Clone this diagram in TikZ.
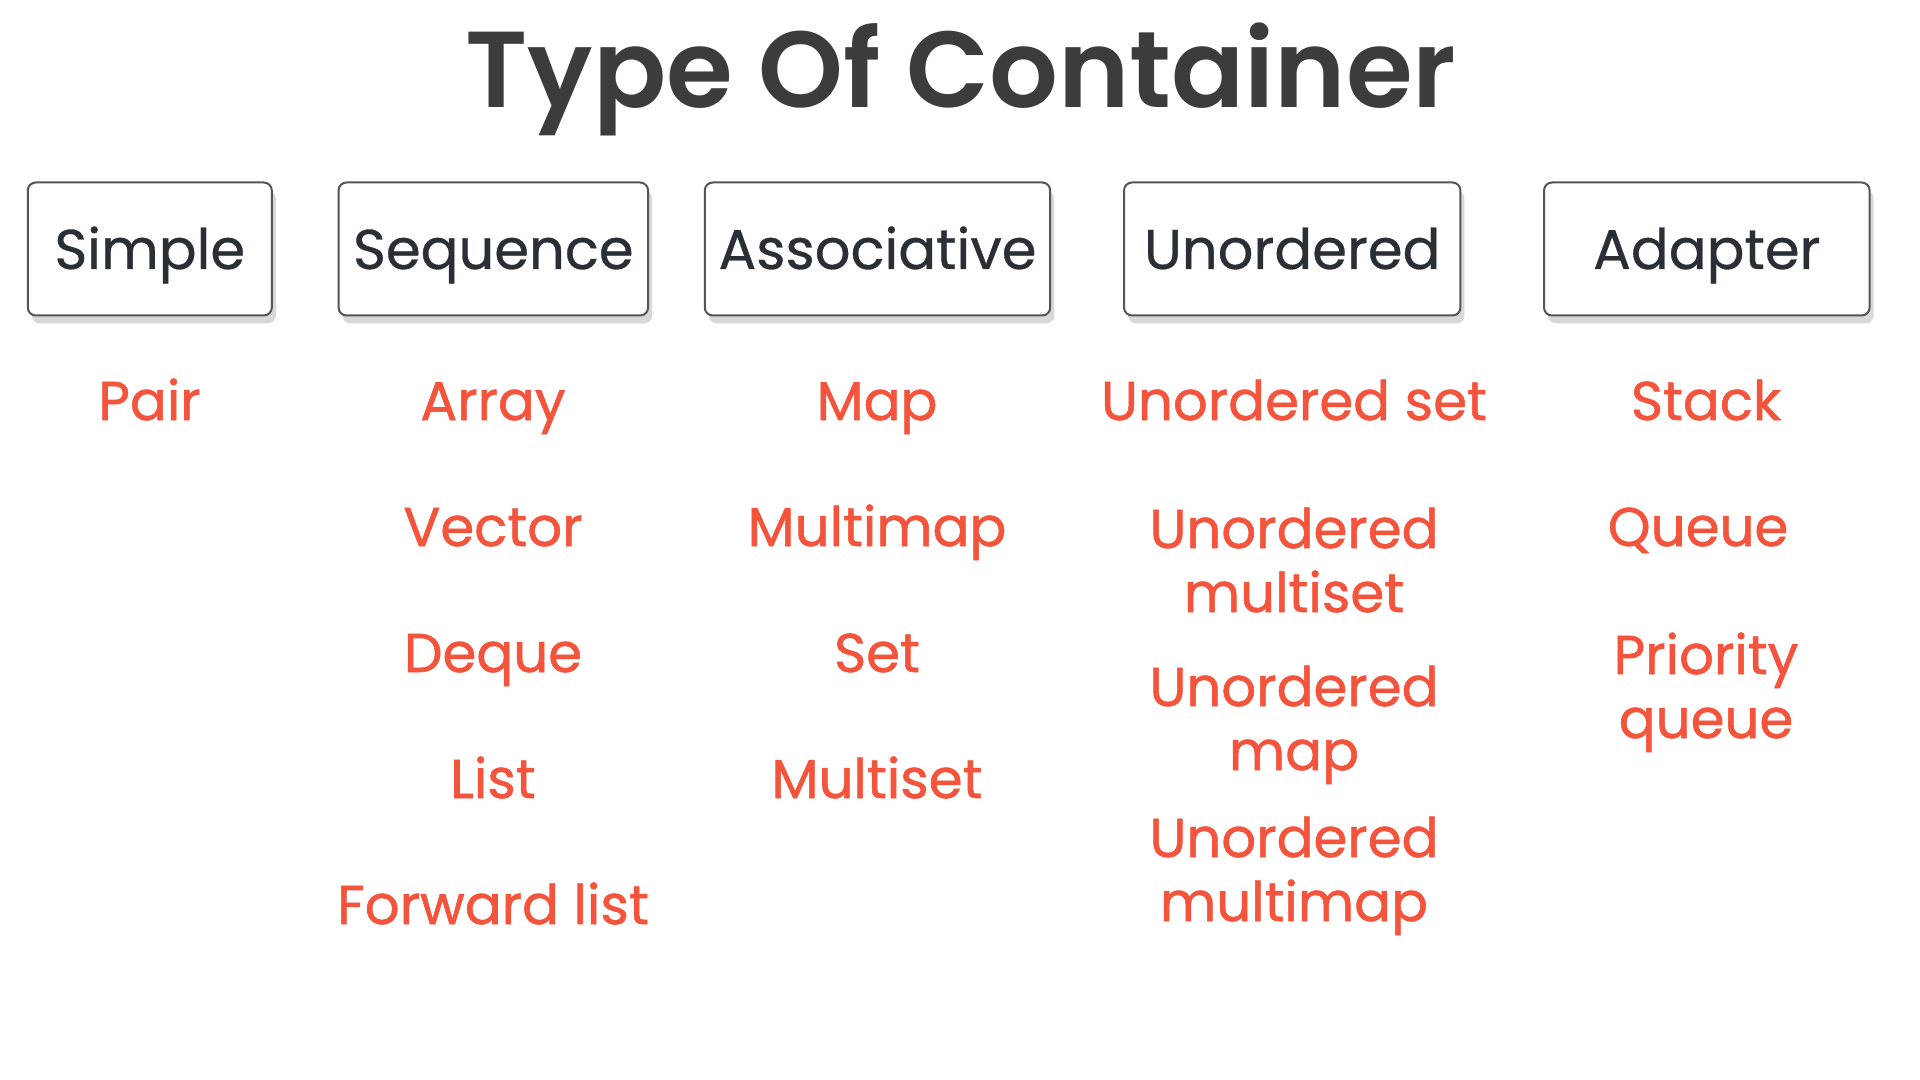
\documentclass[tikz,border=0pt]{standalone}
\usepackage{fontspec}
\setmainfont{Poppins}
\newfontfamily\itemfont[FakeBold=1]{Poppins}
\newfontfamily\boxfont[FakeBold=0.6]{Poppins}
\newfontfamily\titlefont{Poppins SemiBold}
\usetikzlibrary{shadows}
\definecolor{titlegray}{HTML}{3C3C3C}
\definecolor{boxtext}{HTML}{2A2E35}
\definecolor{boxline}{HTML}{555555}
\definecolor{itemred}{HTML}{F4533C}
\tikzset{
  titletext/.style={font=\titlefont\fontsize{54}{60}\selectfont, text=titlegray, anchor=base, inner sep=0pt},
  catbox/.style={draw=boxline, line width=1pt, rounded corners=4pt, fill=white,
    minimum height=66.5pt, text height=20pt, text depth=0pt, inner sep=0pt,
    font=\boxfont\fontsize{28}{34}\selectfont, text=boxtext,
    drop shadow={shadow xshift=2pt, shadow yshift=-4pt, opacity=0.25, fill=black!60}},
  item/.style={font=\itemfont\fontsize{27.3}{32}\selectfont, text=itemred, anchor=base, align=center, inner sep=0pt}
}
\begin{document}
\begin{tikzpicture}[x=0.5pt,y=-0.5pt]
\useasboundingbox (0,0) rectangle (1920,1080);
\fill[white] (0,0) rectangle (1920,1080);
\node[titletext] (title) at (961,108) {Type Of Container};
% category boxes
\node[catbox, minimum width=122pt] (simple) at (149.8,249) {Simple};
\node[catbox, minimum width=154.8pt] (sequence) at (493.3,249) {Sequence};
\node[catbox, minimum width=172.7pt] (assoc) at (877.5,249) {Associative};
\node[catbox, minimum width=168.2pt] (unord) at (1292.2,249) {Unordered};
\node[catbox, minimum width=162.8pt] (adapter) at (1706.8,249) {Adapter};
% simple
\node[item] (pair) at (149.5,420) {Pair};
% sequence
\node[item] (array) at (493,420) {Array};
\node[item] (vector) at (493,546) {Vector};
\node[item] (deque) at (493,672) {Deque};
\node[item] (list) at (493,798) {List};
\node[item] (flist) at (493,924) {Forward list};
% associative
\node[item] (map) at (877,420) {Map};
\node[item] (multimap) at (877,546) {Multimap};
\node[item] (set) at (877,672) {Set};
\node[item] (multiset) at (877,798) {Multiset};
% unordered (base anchor = last line)
\node[item] (uset) at (1294,420) {Unordered set};
\node[item] (umultiset) at (1294,612) {Unordered\\multiset};
\node[item] (umap) at (1294,770) {Unordered\\map};
\node[item] (umultimap) at (1294,921) {Unordered\\multimap};
% adapter
\node[item] (stack) at (1706,420) {Stack};
\node[item] (queue) at (1698,546) {Queue};
\node[item] (pqueue) at (1706,738) {Priority\\queue};
\end{tikzpicture}
\end{document}
